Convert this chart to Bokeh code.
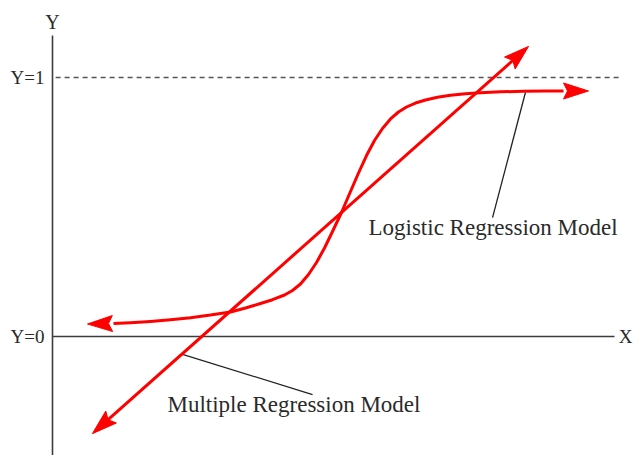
import numpy as np
from bokeh.plotting import figure
from bokeh.models import Range1d
from bokeh.core.properties import value
from bokeh.embed import file_html
from bokeh.resources import INLINE

# ---- data (X axis at y=0, dashed reference at y=1) ----
# logistic regression model curve (first / last point are arrow tips)
logit_x = [0.1351, 0.1853, 0.2355, 0.3012, 0.3784, 0.4556, 0.5328, 0.6100, 0.6873,
           0.7452, 0.8031, 0.8494, 0.8958, 0.9266, 0.9575, 0.9884, 1.0193, 1.0502,
           1.0811, 1.1158, 1.1506, 1.1815, 1.2124, 1.2432, 1.2741, 1.3050, 1.3359,
           1.3668, 1.4015, 1.4402, 1.4865, 1.5367, 1.5946, 1.6525, 1.7297, 1.8185,
           1.9035, 1.9730, 2.0695]
logit_y = [0.0483, 0.0490, 0.0502, 0.0533, 0.0583, 0.0649, 0.0726, 0.0826, 0.0946,
           0.1100, 0.1274, 0.1421, 0.1602, 0.1776, 0.2027, 0.2394, 0.2857, 0.3417,
           0.4054, 0.4788, 0.5598, 0.6313, 0.6988, 0.7568, 0.8031, 0.8398, 0.8668,
           0.8861, 0.9015, 0.9131, 0.9236, 0.9313, 0.9371, 0.9413, 0.9448, 0.9467,
           0.9475, 0.9479, 0.9479]
# multiple regression model line (both ends are arrow tips)
linear_x = [0.154, 1.838]
linear_y = [-0.375, 1.120]

y_axis_top = 1.162
x_axis_end = 2.170
ref_line_x = [0.012, 2.200]
ref_level = 1.0

axis_labels = ["Y", "Y=1", "Y=0", "X"]
axis_label_x = [0.0, -0.031, -0.031, 2.186]
axis_label_y = [1.216, 1.0, 0.0, 0.0]

model_labels = ["Logistic Regression Model", "Multiple Regression Model"]
model_label_x = [1.220, 0.444]
model_label_y = [0.421, -0.264]
leader_x0 = [1.826, 0.502]
leader_y0 = [0.942, -0.069]
leader_x1 = [1.699, 1.004]
leader_y1 = [0.459, -0.224]

# ---- figure ----
SCALE = 259.0  # px per data unit (same in x and y)
W, H = 633, 455
x0 = -52 / SCALE
y1 = 336 / SCALE
p = figure(width=W, height=H, output_backend="svg", toolbar_location=None,
           x_range=Range1d(x0, x0 + W / SCALE), y_range=Range1d(y1 - H / SCALE, y1),
           x_axis_location=None, y_axis_location=None, min_border=0)
p.grid.visible = False
p.outline_line_color = None
p.background_fill_color = "white"
p.border_fill_color = "white"

AX = "#3c3c3c"
RED = "#ff0000"
ybot = y1 - H / SCALE

# axes
p.line([0, 0], [y_axis_top, ybot], line_color=AX, line_width=1.6)
p.line([0, x_axis_end], [0, 0], line_color=AX, line_width=1.6)
p.line(ref_line_x, [ref_level, ref_level], line_color="#555555", line_width=1.5,
       line_dash="5 4")

# leaders
p.segment(x0=leader_x0, y0=leader_y0, x1=leader_x1, y1=leader_y1,
          line_color="#222222", line_width=1.3)


def head(tip, frm):
    tip = np.array(tip, float)
    d = tip - np.array(frm, float)
    d /= np.hypot(*d)
    n = np.array([-d[1], d[0]])
    L, Wd, notch = 25 / SCALE, 8 / SCALE, 4 / SCALE
    pts = [tip, tip - L * d + Wd * n, tip - (L - notch) * d, tip - L * d - Wd * n]
    return [q[0] for q in pts], [q[1] for q in pts]


# logistic curve (line runs between the two arrow-head bases)
p.line(logit_x[2:-1], logit_y[2:-1], line_color=RED, line_width=3,
       line_join="round")
hx, hy = [], []
for tip, frm in [((logit_x[0], logit_y[0]), (logit_x[2], logit_y[2])),
                 ((logit_x[-1], logit_y[-1]), (logit_x[-2], logit_y[-2]))]:
    a, b = head(tip, frm)
    hx.append(a); hy.append(b)

# linear line, shortened under the heads
A = np.array([linear_x[0], linear_y[0]])
B = np.array([linear_x[1], linear_y[1]])
u = (B - A) / np.hypot(*(B - A))
s = 15 / SCALE
p.line([A[0] + s * u[0], B[0] - s * u[0]], [A[1] + s * u[1], B[1] - s * u[1]],
       line_color=RED, line_width=3)
for tip, frm in [(A, B), (B, A)]:
    a, b = head(tip, frm)
    hx.append(a); hy.append(b)

p.patches(hx, hy, fill_color=RED, line_color=RED, line_width=1)

# texts
FONT = value("Liberation Serif")
TXT = "#2a2a2a"
p.text(x=[axis_label_x[0]], y=[axis_label_y[0]], text=[axis_labels[0]],
       text_font=FONT, text_font_size=value("20px"), text_align="center",
       text_baseline="middle", text_color=TXT)
p.text(x=axis_label_x[1:3], y=axis_label_y[1:3], text=axis_labels[1:3],
       text_font=FONT, text_font_size=value("19px"), text_align="right",
       text_baseline="middle", text_color=TXT)
p.text(x=[axis_label_x[3]], y=[axis_label_y[3]], text=[axis_labels[3]],
       text_font=FONT, text_font_size=value("19px"), text_align="left",
       text_baseline="middle", text_color=TXT)
p.text(x=model_label_x, y=model_label_y, text=model_labels,
       text_font=FONT, text_font_size=value("23px"), text_align="left",
       text_baseline="middle", text_color=TXT)

open("out.html", "w").write(file_html(p, INLINE))
